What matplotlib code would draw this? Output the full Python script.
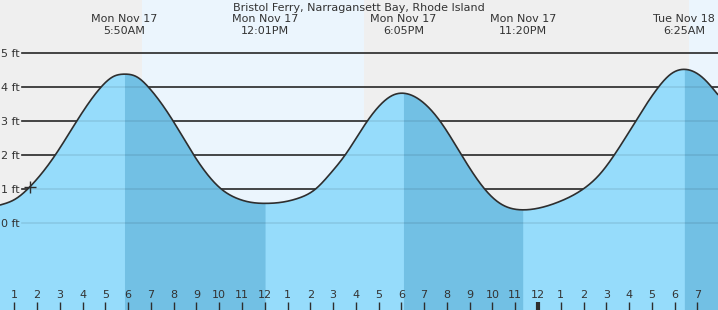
import numpy as np
import matplotlib
matplotlib.use("Agg")
import matplotlib.pyplot as plt
from matplotlib.transforms import blended_transform_factory

# ---------------- data ----------------
title = "Bristol Ferry, Narragansett Bay, Rhode Island"

# hours since midnight Mon Nov 17, tide height in feet
tide_hours = [0.37, 1.03, 1.69, 2.79, 3.74, 4.81, 5.35, 5.83,
              6.38, 6.89, 7.98, 8.89, 10.11, 10.77, 11.50, 12.02,
              12.81, 13.47, 14.21, 14.86, 15.52, 16.50, 17.06, 17.65, 18.08,
              18.82, 19.70, 20.65, 21.67, 22.33, 23.33,
              24.09, 24.97, 25.96, 26.72, 27.34, 28.29, 29.29, 29.87, 30.42,
              31.26, 31.91]
tide_ft = [0.54, 0.71, 1.08, 2.00, 3.00, 4.00, 4.31, 4.38,
           4.30, 4.00, 3.00, 2.00, 1.00, 0.74, 0.61, 0.59,
           0.63, 0.74, 1.00, 1.45, 2.00, 3.00, 3.47, 3.77, 3.82,
           3.62, 3.00, 2.00, 1.00, 0.59, 0.40,
           0.46, 0.65, 1.00, 1.45, 2.00, 3.00, 4.00, 4.40, 4.52,
           4.26, 3.77]

# high / low tide events
event_hours = [5.833, 12.017, 18.083, 23.333, 30.417]
event_days = ["Mon Nov 17", "Mon Nov 17", "Mon Nov 17", "Mon Nov 17", "Tue Nov 18"]
event_times = ["5:50AM", "12:01PM", "6:05PM", "11:20PM", "6:25AM"]
# falling-tide spans (high -> low) shaded darker
falling_spans = [(5.833, 12.017), (18.083, 23.333), (30.417, 32.5)]

# daylight spans
daylight_spans = [(6.595, 16.36), (30.63, 32.5)]

# current reading marker
now_hour = 1.69
now_ft = 1.08

y_ticks = [0, 1, 2, 3, 4, 5]
y_labels = ["0 ft", "1 ft", "2 ft", "3 ft", "4 ft", "5 ft"]
x_ticks = list(range(1, 32))
x_labels = [str(v) for v in list(range(1, 13)) + list(range(1, 13)) + list(range(1, 8))]

# ---------------- styles ----------------
night_col = "#efefef"
day_col = "#ebf5fd"
water_col = "#96dcfb"
water_dark = "#72c0e4"
line_col = "#2e2e2e"
text_col = "#333333"
FS = 8

XMIN, XMAX = 0.372, 31.905
YMIN, YMAX = -2.537, 6.554


def smooth_curve(x, y, xs):
    """Natural cubic spline through the read points (for a smooth drawn line)."""
    x = np.asarray(x, float)
    y = np.asarray(y, float)
    n = len(x)
    h = np.diff(x)
    A = np.zeros((n, n))
    r = np.zeros(n)
    A[0, 0] = A[-1, -1] = 1.0
    for i in range(1, n - 1):
        A[i, i - 1] = h[i - 1]
        A[i, i] = 2 * (h[i - 1] + h[i])
        A[i, i + 1] = h[i]
        r[i] = 3 * ((y[i + 1] - y[i]) / h[i] - (y[i] - y[i - 1]) / h[i - 1])
    c = np.linalg.solve(A, r)
    b = (y[1:] - y[:-1]) / h - h * (2 * c[:-1] + c[1:]) / 3
    d = (c[1:] - c[:-1]) / (3 * h)
    idx = np.clip(np.searchsorted(x, xs) - 1, 0, n - 2)
    t = xs - x[idx]
    return y[idx] + b[idx] * t + c[idx] * t**2 + d[idx] * t**3


plt.rcParams["font.family"] = ["DejaVu Sans"]
fig = plt.figure(figsize=(7.18, 3.10), dpi=100)
ax = fig.add_axes([0, 0, 1, 1])
ax.set_xlim(XMIN, XMAX)
ax.set_ylim(YMIN, YMAX)
ax.set_facecolor(night_col)
for s in ax.spines.values():
    s.set_visible(False)

for a, b in daylight_spans:
    ax.axvspan(a, b, color=day_col, lw=0, zorder=0)

# dark grid lines (behind water)
gx0 = 22 / 718
for yv in y_ticks:
    ax.axhline(yv, xmin=gx0, xmax=1, color=line_col, lw=1.2, zorder=1)

xs = np.linspace(tide_hours[0], tide_hours[-1], 3000)
ys = smooth_curve(tide_hours, tide_ft, xs)
ax.fill_between(xs, ys, YMIN, color=water_col, lw=0, zorder=2)
for a, b in falling_spans:
    mask = (xs >= a) & (xs <= b)
    ax.fill_between(xs, ys, YMIN, where=mask, color=water_dark, lw=0, zorder=3)
ax.plot(xs, ys, color=line_col, lw=1.2, zorder=5, solid_capstyle="butt")

# faint lines over water
for yv in y_ticks:
    ax.axhline(yv, xmin=gx0, xmax=1, color="black", alpha=0.09, lw=1.2, zorder=4)

ax.plot([now_hour], [now_ft], marker="+", ms=9, mew=1.0, color=line_col, zorder=6)

# axis ticks/labels
ax.xaxis.set_zorder(10)
ax.yaxis.set_zorder(10)
ax.set_yticks(y_ticks, y_labels)
ax.tick_params(axis="y", direction="in", length=0, pad=-14.4, labelsize=FS,
               labelcolor=text_col)
ax.set_xticks(x_ticks, x_labels)
ax.tick_params(axis="x", direction="in", length=6, width=1, color=line_col,
               pad=-14.5, labelsize=FS, labelcolor=text_col)
ax.xaxis.get_major_ticks()[23].tick1line.set_markeredgewidth(3)

# top texts
trans = blended_transform_factory(ax.transData, ax.transAxes)
ax.text(0.5, 1 - 8 / 310, title, transform=ax.transAxes, ha="center", va="center",
        fontsize=FS, color=text_col, zorder=8)
for h, d, tm in zip(event_hours, event_days, event_times):
    ax.text(h, 1 - 14 / 310, d + "\n" + tm, transform=trans, ha="center", va="top",
            fontsize=FS, color=text_col, linespacing=1.25, zorder=8)

fig.savefig("out.png", dpi=100)
